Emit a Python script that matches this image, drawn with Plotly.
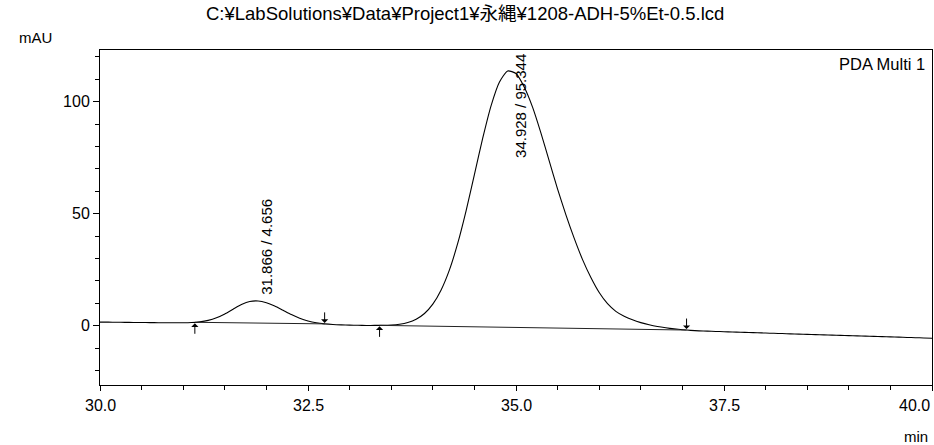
import numpy as np
import plotly.graph_objects as go

# ---- data ----
time_min = [round(30.0 + 0.1 * i, 1) for i in range(101)]
signal_mau = [
    1.60, 1.56, 1.52, 1.48, 1.44, 1.40, 1.36, 1.32, 1.28, 1.27,
    1.28, 1.38, 1.69, 2.35, 3.52, 5.25, 7.37, 9.42, 10.78, 11.01,
    10.23, 8.73, 6.85, 4.96, 3.34, 2.12, 1.29, 0.79, 0.49, 0.33,
    0.23, 0.15, 0.10, 0.11, 0.15, 0.30, 0.66, 1.43, 2.87, 5.42,
    9.60, 15.95, 24.90, 36.85, 51.30, 67.45, 83.70, 98.15, 108.70, 113.75,
    112.60, 106.50, 97.50, 86.00, 73.50, 61.00, 49.50, 39.00, 29.50, 21.50,
    14.80, 9.80, 6.40, 4.20, 2.60, 1.35, 0.38, -0.39, -0.96, -1.43,
    -1.80, -2.12, -2.34, -2.46, -2.58, -2.70, -2.82, -2.94, -3.06, -3.18,
    -3.30, -3.42, -3.53, -3.65, -3.76, -3.88, -3.99, -4.11, -4.22, -4.34,
    -4.45, -4.57, -4.68, -4.80, -4.91, -5.03, -5.14, -5.26, -5.37, -5.49,
    -5.60,
]
peak_rt = [31.866, 34.928]
peak_area_pct = [4.656, 95.344]
peak_start = [31.14, 33.36]
peak_end = [32.70, 37.05]
x_tick_vals = [30.0, 32.5, 35.0, 37.5, 40.0]
y_tick_vals = [0, 50, 100]

title_text = "C:¥LabSolutions¥Data¥Project1¥永縄¥1208-ADH-5%Et-0.5.lcd"

FONT = "Liberation Sans, Arial, sans-serif"
CJK = "Liberation Sans, Noto Sans CJK JP, sans-serif"

fig = go.Figure()

fig.add_trace(go.Scatter(
    x=time_min, y=signal_mau, mode="lines",
    line=dict(color="black", width=1.1, shape="spline", smoothing=0.6),
    hoverinfo="skip", showlegend=False,
))

# integration baselines between start and end markers
for s, e in zip(peak_start, peak_end):
    ys = float(np.interp(s, time_min, signal_mau))
    ye = float(np.interp(e, time_min, signal_mau))
    fig.add_trace(go.Scatter(
        x=[s, e], y=[ys, ye], mode="lines",
        line=dict(color="#222222", width=1),
        hoverinfo="skip", showlegend=False,
    ))

annotations = []
# start (up) and end (down) arrows
for s in peak_start:
    ys = float(np.interp(s, time_min, signal_mau))
    annotations.append(dict(x=s, y=ys, xref="x", yref="y", text="", showarrow=True,
                            ax=0, ay=13, arrowhead=1, arrowsize=1.2, arrowwidth=1,
                            arrowcolor="black", standoff=1))
for e in peak_end:
    ye = float(np.interp(e, time_min, signal_mau))
    annotations.append(dict(x=e, y=ye, xref="x", yref="y", text="", showarrow=True,
                            ax=0, ay=-13, arrowhead=1, arrowsize=1.2, arrowwidth=1,
                            arrowcolor="black", standoff=1))

# peak labels (rotated)
label_bottom = [13.0, 74.0]
for rt, pct, yb in zip(peak_rt, peak_area_pct, label_bottom):
    annotations.append(dict(
        x=rt, y=yb, xref="x", yref="y", text=f"{rt:.3f} / {pct:.3f}",
        textangle=-90, showarrow=False, xanchor="center", yanchor="bottom",
        xshift=11, font=dict(family=FONT, size=15, color="black"),
    ))

# x tick labels
for v in x_tick_vals:
    annotations.append(dict(
        x=v, y=-0.06, xref="x", yref="paper", text=f"{v:.1f}", showarrow=False,
        xanchor="right" if v == x_tick_vals[-1] else "center", yanchor="middle",
        font=dict(family=FONT, size=16, color="black"),
    ))

annotations += [
    dict(x=0.439, y=1.11, xref="paper", yref="paper", text=title_text, showarrow=False,
         xanchor="center", yanchor="middle",
         font=dict(family=CJK, size=18.5, color="black")),
    dict(x=-0.078, y=1.036, xref="paper", yref="paper", text="mAU", showarrow=False,
         xanchor="center", yanchor="middle",
         font=dict(family=FONT, size=15, color="black")),
    dict(x=0.998, y=-0.155, xref="paper", yref="paper", text="min", showarrow=False,
         xanchor="right", yanchor="middle",
         font=dict(family=FONT, size=15, color="black")),
    dict(x=0.994, y=0.958, xref="paper", yref="paper", text="PDA Multi 1", showarrow=False,
         xanchor="right", yanchor="middle",
         font=dict(family=FONT, size=16.5, color="black")),
]

fig.update_layout(
    width=934, height=445,
    margin=dict(l=100, r=2, t=50, b=60),
    paper_bgcolor="white", plot_bgcolor="white",
    showlegend=False,
    annotations=annotations,
    font=dict(family=FONT, size=16, color="black"),
)
fig.update_xaxes(
    range=[30, 40], showgrid=False, zeroline=False,
    showline=True, linecolor="black", linewidth=1, mirror=True,
    tickvals=x_tick_vals, ticks="outside", ticklen=5, tickcolor="black",
    showticklabels=False,
    minor=dict(dtick=0.5, tick0=30, ticks="outside", ticklen=4, tickcolor="black"),
)
fig.update_yaxes(
    range=[-26.5, 123.1], showgrid=False, zeroline=False,
    showline=True, linecolor="black", linewidth=1, mirror=True,
    tickvals=y_tick_vals, ticks="outside", ticklen=6, tickcolor="black",
    tickfont=dict(family=FONT, size=16, color="black"),
    minor=dict(dtick=10, tick0=0, ticks="outside", ticklen=4, tickcolor="black"),
)

fig.write_html(
    "out.html",
    config={"displayModeBar": False},
    post_script="document.body.style.margin='0';document.body.style.overflow='hidden';",
)
